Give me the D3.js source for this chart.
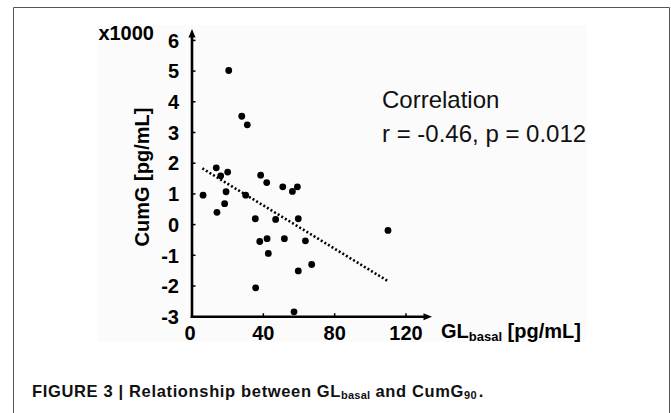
<!DOCTYPE html>
<html>
<head>
<meta charset="utf-8">
<script src="https://cdn.jsdelivr.net/npm/d3@7"></script>
<style>
  html, body { margin: 0; padding: 0; background: #fff; }
  svg { display: block; }
</style>
</head>
<body>
<script>
// ---- data ----
const glBasal = [20.6, 27.9, 31.0, 13.6, 20.0, 16.1, 38.5, 41.9, 50.9, 56.3, 59.1, 6.2, 19.1, 30.1, 18.3, 14.0, 35.5, 46.9, 59.6, 38.0, 42.1, 51.8, 42.8, 59.6, 35.7, 57.2, 63.6, 67.1, 109.9];
const cumG    = [5.02, 3.53, 3.25, 1.85, 1.71, 1.59, 1.61, 1.37, 1.23, 1.08, 1.23, 0.96, 1.07, 0.96, 0.68, 0.40, 0.19, 0.17, 0.19, -0.55, -0.46, -0.46, -0.94, -1.51, -2.06, -2.84, -0.53, -1.30, -0.19];
const trendX = [5.8, 109.6];
const trendY = [1.83, -1.83];
const xTicks = [0, 40, 80, 120];
const yTicks = [-3, -2, -1, 0, 1, 2, 3, 4, 5, 6];

const W = 671, H = 413;
const svg = d3.select("body").append("svg").attr("width", W).attr("height", H);

// frame
svg.append("path")
  .attr("d", `M13.5,${H} V7.5 H669.5 V${H}`)
  .attr("fill", "none").attr("stroke", "#555").attr("stroke-width", 1);

// faint panel background
svg.append("rect").attr("x", 97).attr("y", 25).attr("width", 490).attr("height", 317).attr("fill", "#fbfbfb");

const x = d3.scaleLinear().domain([0, 120]).range([192, 406]);
const y = d3.scaleLinear().domain([-3, 6]).range([316.7, 40.4]);
const x0 = x(0), yb = y(-3);

const bold = "'Liberation Sans', Arial, sans-serif";

// axes lines
svg.append("line").attr("x1", x0).attr("x2", x0).attr("y1", yb + 1.3).attr("y2", 34)
  .attr("stroke", "#000").attr("stroke-width", 2.6);
svg.append("line").attr("x1", x0 - 1.3).attr("x2", 427).attr("y1", yb).attr("y2", yb)
  .attr("stroke", "#000").attr("stroke-width", 2.6);
// arrowheads
svg.append("path").attr("d", `M${x0},29 L${x0 - 3.5},37.5 L${x0 + 3.5},37.5 Z`).attr("fill", "#000");
svg.append("path").attr("d", `M432,${yb} L423.5,${yb - 3.5} L423.5,${yb + 3.5} Z`).attr("fill", "#000");

// ticks
svg.append("g").selectAll("line").data(yTicks.filter(d => d !== -3)).join("line")
  .attr("x1", x0).attr("x2", x0 + 3.5).attr("y1", d => y(d)).attr("y2", d => y(d))
  .attr("stroke", "#000").attr("stroke-width", 1.5);
svg.append("g").selectAll("line").data(xTicks.filter(d => d !== 0)).join("line")
  .attr("x1", d => x(d)).attr("x2", d => x(d)).attr("y1", yb).attr("y2", yb - 3.5)
  .attr("stroke", "#000").attr("stroke-width", 1.5);

// tick labels
svg.append("g").selectAll("text").data(yTicks).join("text")
  .attr("x", 179).attr("y", d => y(d)).attr("dy", "0.36em")
  .attr("text-anchor", "end").attr("font-family", bold).attr("font-weight", "bold").attr("font-size", 20)
  .text(d => d);
svg.append("g").selectAll("text").data(xTicks).join("text")
  .attr("x", d => x(d) - (d === 0 ? 2 : 0)).attr("y", 340)
  .attr("text-anchor", "middle").attr("font-family", bold).attr("font-weight", "bold").attr("font-size", 20)
  .text(d => d);

// multiplier
svg.append("text").attr("x", 154).attr("y", 40).attr("text-anchor", "end")
  .attr("font-family", bold).attr("font-weight", "bold").attr("font-size", 20).text("x1000");

// y title
svg.append("text").attr("transform", "translate(149,177) rotate(-90)").attr("text-anchor", "middle")
  .attr("font-family", bold).attr("font-weight", "bold").attr("font-size", 20).text("CumG [pg/mL]");

// x title
const xt = svg.append("text").attr("x", 441).attr("y", 338)
  .attr("font-family", bold).attr("font-weight", "bold").attr("font-size", 20);
xt.append("tspan").text("GL");
xt.append("tspan").attr("font-size", 13).attr("dy", 3).text("basal");
xt.append("tspan").attr("dy", -3).text(" [pg/mL]");

// trend line
svg.append("line")
  .attr("x1", x(trendX[0])).attr("y1", y(trendY[0])).attr("x2", x(trendX[1])).attr("y2", y(trendY[1]))
  .attr("stroke", "#000").attr("stroke-width", 2.6).attr("stroke-dasharray", "2,2.2");

// points
svg.append("g").selectAll("circle").data(glBasal.map((g, i) => [g, cumG[i]])).join("circle")
  .attr("cx", d => x(d[0])).attr("cy", d => y(d[1])).attr("r", 3.4).attr("fill", "#000");

// correlation text
const corr = svg.append("text").attr("font-family", "'Liberation Sans', Arial, sans-serif").attr("font-size", 24).attr("fill", "#111");
corr.append("tspan").attr("x", 382).attr("y", 108).text("Correlation");
corr.append("tspan").attr("x", 382).attr("y", 141.5).text("r = -0.46, p = 0.012");

// caption
const cap = svg.append("text").attr("x", 32).attr("y", 397)
  .attr("font-family", bold).attr("font-weight", "bold").attr("font-size", 16.5)
  .attr("letter-spacing", 0.65).attr("fill", "#111");
cap.append("tspan").text("FIGURE 3 | Relationship between GL");
cap.append("tspan").attr("font-size", 11).attr("dy", 2).attr("letter-spacing", 0.2).text("basal");
cap.append("tspan").attr("dy", -2).text(" and CumG");
cap.append("tspan").attr("font-size", 11).attr("dy", 2).attr("letter-spacing", 0.2).text("90");
cap.append("tspan").attr("dy", -2).attr("dx", 2).text(".");
</script>
</body>
</html>
